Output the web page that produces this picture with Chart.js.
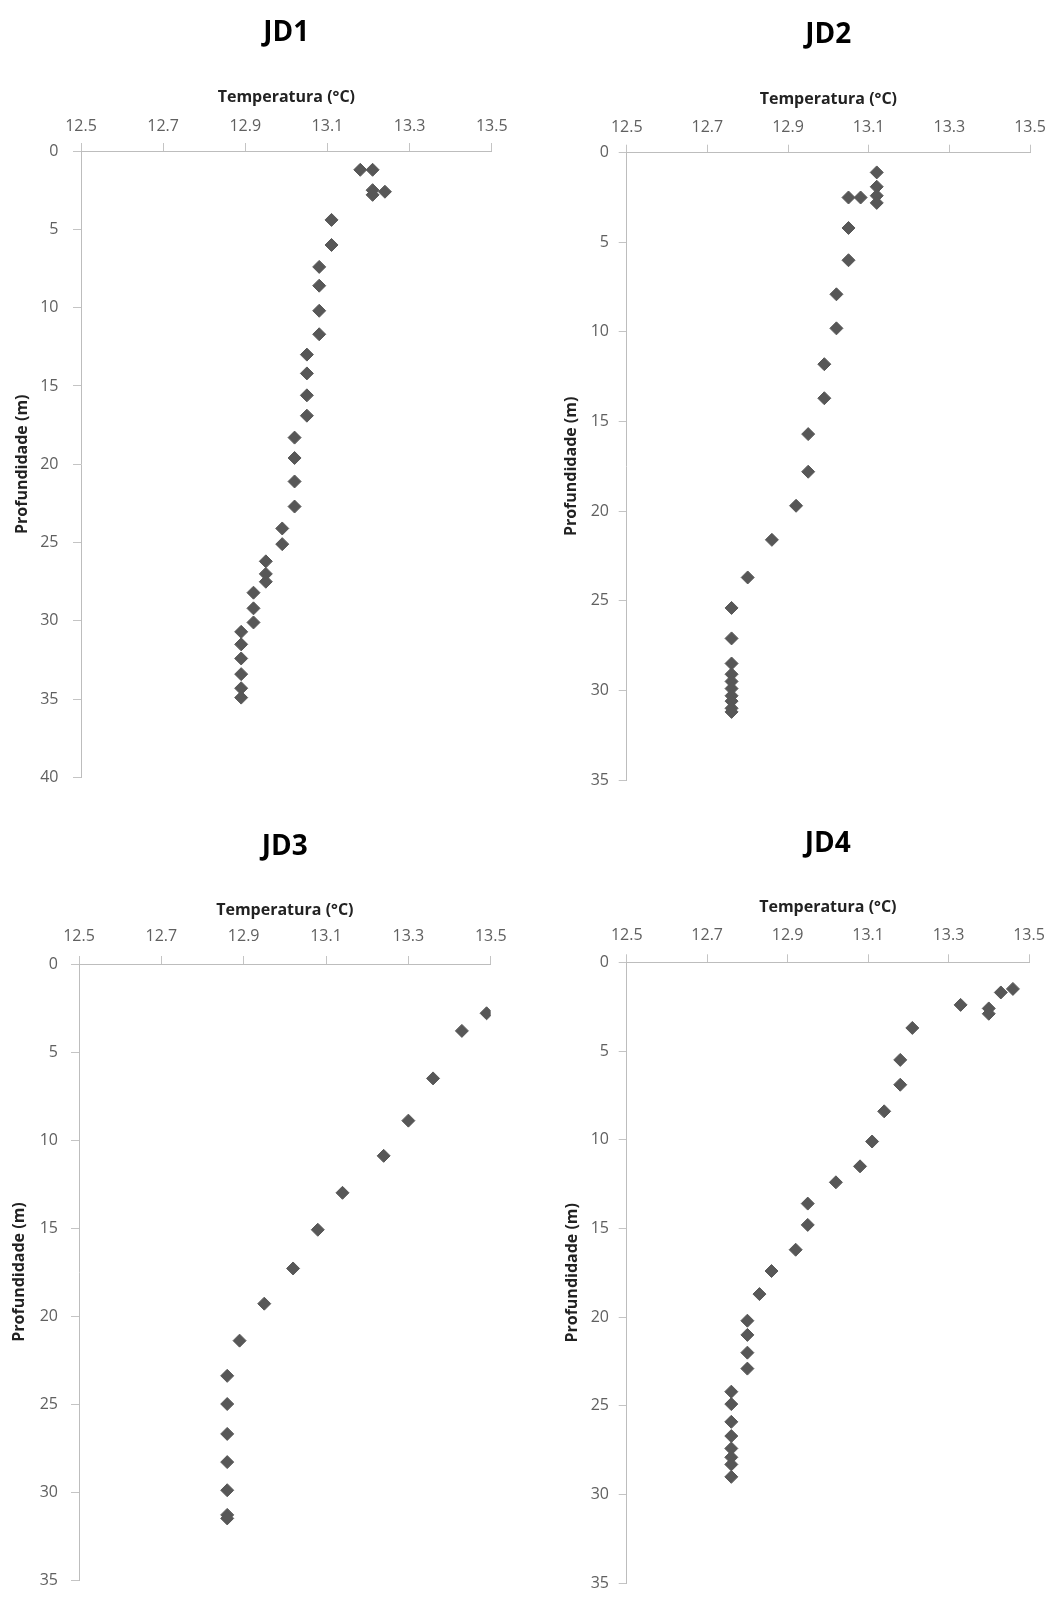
<!DOCTYPE html>
<html>
<head>
<meta charset="utf-8">
<script src="https://cdn.jsdelivr.net/npm/chart.js@4"></script>
<style>
  html, body { margin: 0; padding: 0; background: #fff; }
  body { width: 1064px; height: 1601px; position: relative; overflow: hidden; }
  canvas { position: absolute; }
</style>
</head>
<body>
<canvas id="jd1" width="532" height="800" style="left:0;top:0"></canvas>
<canvas id="jd2" width="532" height="800" style="left:532px;top:0"></canvas>
<canvas id="jd3" width="532" height="801" style="left:0;top:800px"></canvas>
<canvas id="jd4" width="532" height="801" style="left:532px;top:800px"></canvas>
<script>
// temperatura (°C) e profundidade (m) de cada perfil
const jd1Temp = [13.18, 13.21, 13.21, 13.21, 13.24, 13.11, 13.11, 13.08, 13.08, 13.08, 13.08,
  13.05, 13.05, 13.05, 13.05, 13.02, 13.02, 13.02, 13.02, 12.99, 12.99, 12.95, 12.95, 12.95,
  12.92, 12.92, 12.92, 12.89, 12.89, 12.89, 12.89, 12.89, 12.89];
const jd1Depth = [1.2, 1.2, 2.5, 2.8, 2.6, 4.4, 6.0, 7.4, 8.6, 10.2, 11.7,
  13.0, 14.2, 15.6, 16.9, 18.3, 19.6, 21.1, 22.7, 24.1, 25.1, 26.2, 27.0, 27.5,
  28.2, 29.2, 30.1, 30.7, 31.5, 32.4, 33.4, 34.3, 34.9];

const jd2Temp = [13.12, 13.12, 13.12, 13.12, 13.05, 13.08, 13.05, 13.05, 13.02, 13.02, 12.99,
  12.99, 12.95, 12.95, 12.92, 12.86, 12.80, 12.76, 12.76, 12.76, 12.76, 12.76, 12.76,
  12.76, 12.76, 12.76, 12.76];
const jd2Depth = [1.1, 1.9, 2.4, 2.8, 2.5, 2.5, 4.2, 6.0, 7.9, 9.8, 11.8,
  13.7, 15.7, 17.8, 19.7, 21.6, 23.7, 25.4, 27.1, 28.5, 29.1, 29.5, 29.9,
  30.3, 30.6, 31.0, 31.2];

const jd3Temp = [13.49, 13.43, 13.36, 13.30, 13.24, 13.14, 13.08, 13.02, 12.95, 12.89,
  12.86, 12.86, 12.86, 12.86, 12.86, 12.86, 12.86];
const jd3Depth = [2.8, 3.8, 6.5, 8.9, 10.9, 13.0, 15.1, 17.3, 19.3, 21.4,
  23.4, 25.0, 26.7, 28.3, 29.9, 31.3, 31.5];

const jd4Temp = [13.46, 13.43, 13.40, 13.40, 13.33, 13.21, 13.18, 13.18, 13.14, 13.11, 13.08,
  13.02, 12.95, 12.95, 12.92, 12.86, 12.83, 12.80, 12.80, 12.80, 12.80, 12.76, 12.76,
  12.76, 12.76, 12.76, 12.76, 12.76, 12.76];
const jd4Depth = [1.5, 1.7, 2.6, 2.9, 2.4, 3.7, 5.5, 6.9, 8.4, 10.1, 11.5,
  12.4, 13.6, 14.8, 16.2, 17.4, 18.7, 20.2, 21.0, 22.0, 22.9, 24.2, 24.9,
  25.9, 26.7, 27.4, 27.9, 28.3, 29.0];

const tempTicks = { min: 12.5, max: 13.5, step: 0.2 };
const depthStep = 5;

Chart.defaults.font.family = "'Open Sans', sans-serif";
Chart.defaults.animation = false;

function makePanel(id, name, temps, depths, depthMax, box) {
  const canvas = document.getElementById(id);
  const W = canvas.width, H = canvas.height;
  const titleBottom = box.titleY + 16.8;
  const xHeight = box.top - titleBottom;

  return new Chart(canvas, {
    type: 'scatter',
    data: {
      datasets: [{
        data: temps.map((t, i) => ({ x: t, y: depths[i] })),
        pointStyle: 'rectRot',
        pointRadius: 6.5,
        pointBorderWidth: 1,
        backgroundColor: '#575757',
        borderColor: '#575757'
      }]
    },
    options: {
      responsive: false,
      layout: { padding: { left: 0, top: 0, right: W - box.right, bottom: H - box.bottom } },
      plugins: {
        legend: { display: false },
        tooltip: { enabled: false },
        title: {
          display: true,
          text: name,
          fullSize: false,
          color: '#000',
          font: { size: 28, weight: 'bold', lineHeight: 1.2 },
          padding: { top: box.titleY - 16.8, bottom: 0 }
        }
      },
      scales: {
        x: {
          type: 'linear',
          position: 'top',
          min: tempTicks.min,
          max: tempTicks.max,
          ticks: {
            stepSize: tempTicks.step,
            color: '#606060',
            font: { size: 16, lineHeight: 1.2 },
            padding: box.top - 8 - 9.6 - box.tickY,
            maxRotation: 0,
            callback: v => v.toFixed(1)
          },
          grid: { drawOnChartArea: false, drawTicks: true, tickLength: 8, color: '#c4c4c4' },
          border: { color: '#bdbdbd' },
          title: {
            display: true,
            text: 'Temperatura (°C)',
            color: '#222',
            font: { size: 16, weight: 'bold', lineHeight: 1.2 },
            padding: { top: box.axisTitleY - titleBottom - 9.6, bottom: 0 }
          },
          afterFit: axis => { axis.height = xHeight; }
        },
        y: {
          type: 'linear',
          reverse: true,
          min: 0,
          max: depthMax,
          ticks: {
            stepSize: depthStep,
            color: '#606060',
            font: { size: 16, lineHeight: 1 },
            padding: box.left - 8 - box.yTickRight
          },
          grid: { drawOnChartArea: false, drawTicks: true, tickLength: 8, color: '#c4c4c4' },
          border: { color: '#bdbdbd' },
          title: {
            display: true,
            text: 'Profundidade (m)',
            color: '#222',
            font: { size: 16, weight: 'bold', lineHeight: 1.2 },
            padding: { top: box.yTitleX - 9.6, bottom: 0 }
          },
          afterFit: axis => { axis.width = box.left; }
        }
      }
    }
  });
}

makePanel('jd1', 'JD1', jd1Temp, jd1Depth, 40,
  { left: 81, top: 151, right: 491.7, bottom: 780, titleY: 33, axisTitleY: 97, tickY: 126, yTitleX: 22, yTickRight: 58.5 });
makePanel('jd2', 'JD2', jd2Temp, jd2Depth, 35,
  { left: 94.7, top: 152.7, right: 498, bottom: 780, titleY: 35, axisTitleY: 99, tickY: 127.5, yTitleX: 39, yTickRight: 77 });
makePanel('jd3', 'JD3', jd3Temp, jd3Depth, 35,
  { left: 79, top: 164, right: 490.7, bottom: 792.7, titleY: 47, axisTitleY: 110, tickY: 136, yTitleX: 19.5, yTickRight: 58 });
makePanel('jd4', 'JD4', jd4Temp, jd4Depth, 35,
  { left: 94.7, top: 162.3, right: 497, bottom: 790, titleY: 44, axisTitleY: 107.5, tickY: 135.8, yTitleX: 40.5, yTickRight: 77 });
</script>
</body>
</html>
